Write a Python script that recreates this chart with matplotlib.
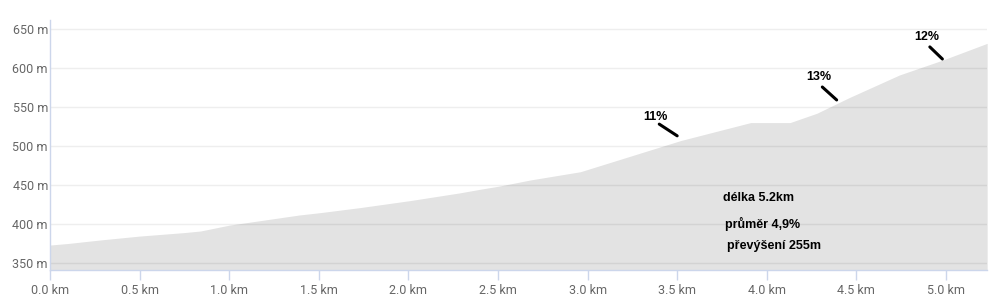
from matplotlib import pyplot as plt
import numpy as np

# profil trasy (km, m n. m.)
km = [0.00, 0.10, 0.28, 0.50, 0.75, 0.84, 1.00, 1.06, 1.39, 1.51, 1.73, 2.01,
      2.29, 2.40, 2.51, 2.68, 2.96, 3.24, 3.52, 3.91, 4.13, 4.28, 4.46, 4.74,
      4.98, 5.23]
elev = [373, 375, 379.5, 384.5, 389, 391, 398.5, 400.5, 411.5, 414.6, 421, 430,
        440, 444.5, 448.7, 456.4, 467, 487, 507, 530, 530, 542, 562, 591,
        610, 631.6]

# stoupání: text, pozice textu, úsečka
grade_labels = ['11%', '13%', '12%']
grade_text_xy = [(3.38, 537), (4.29, 588.5), (4.89, 640)]
grade_lines = [((3.40, 3.50), (528, 513)),
               ((4.31, 4.39), (575.6, 559)),
               ((4.91, 4.98), (627, 611.5))]

info_lines = ['délka 5.2km', 'průměr 4,9%', 'převýšení 255m']

xticks = np.arange(0, 5.01, 0.5)
yticks = np.arange(350, 651, 50)

fig = plt.figure(figsize=(9.96, 3.02), dpi=100)
ax = fig.add_axes([50 / 996, 1 - 270 / 302, 937 / 996, 250 / 302])

axis_col = '#ccd6eb'
ax.set_xlim(0, 5.229)
ax.set_ylim(341, 661.5)

for y in yticks:
    ax.axhline(y, color='#eeeeee', lw=1, zorder=0)

ax.fill_between(km, elev, 341, color='black', alpha=0.11, lw=0, zorder=1)

for s in ['top', 'right']:
    ax.spines[s].set_visible(False)
for s in ['left', 'bottom']:
    ax.spines[s].set_color(axis_col)
    ax.spines[s].set_linewidth(1)

ax.set_xticks(xticks)
ax.set_xticklabels(['%.1f km' % v for v in xticks])
ax.set_yticks(yticks)
ax.set_yticklabels(['%d m' % v for v in yticks])
ax.tick_params(axis='x', length=7, width=1, color=axis_col, pad=3,
               labelsize=9, labelcolor='#666666')
ax.tick_params(axis='y', length=0, pad=1.5, labelsize=9, labelcolor='#666666')
for lab in ax.get_xticklabels() + ax.get_yticklabels():
    lab.set_family('Roboto')

for lab, (tx, ty), (lx, ly) in zip(grade_labels, grade_text_xy, grade_lines):
    ax.text(tx, ty, lab, ha='center', va='center', fontsize=9,
            fontweight='bold', family='Liberation Sans', color='black', zorder=3)
    ax.plot(lx, ly, color='black', lw=2.2, solid_capstyle='round', zorder=3)

info_x = [723, 725, 727]
info_y = [198, 224, 246]
for t, px, py in zip(info_lines, info_x, info_y):
    fig.text(px / 996, 1 - py / 302, t, ha='left', va='center', fontsize=9,
             fontweight='bold', family='Liberation Sans', color='black')

fig.savefig('out.png', dpi=100)
